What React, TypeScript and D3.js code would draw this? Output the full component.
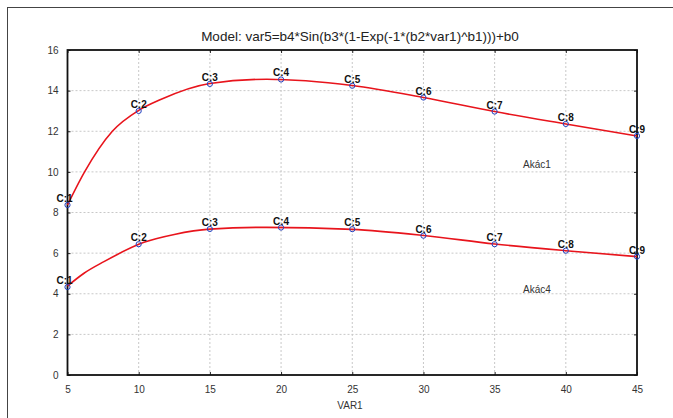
import { useRef, useEffect } from "react";
import * as d3 from "d3";

const xVals = [5, 10, 15, 20, 25, 30, 35, 40, 45];
const akac1 = [8.37, 13.0, 14.33, 14.55, 14.24, 13.66, 12.97, 12.36, 11.77];
const akac4 = [4.33, 6.44, 7.19, 7.26, 7.18, 6.86, 6.44, 6.12, 5.83];
const pointLabels = ["C:1", "C:2", "C:3", "C:4", "C:5", "C:6", "C:7", "C:8", "C:9"];
const xTicks = [5, 10, 15, 20, 25, 30, 35, 40, 45];
const yTicks = [0, 2, 4, 6, 8, 10, 12, 14, 16];
const seriesNames = ["Akác1", "Akác4"];

// fitted model curves
const fit1X = [5, 6.2, 8.15, 10, 11.5, 15, 19, 25, 30, 35, 40, 45];
const fit1Y = [8.37, 10.0, 12.0, 13.03, 13.55, 14.35, 14.56, 14.25, 13.66, 12.97, 12.36, 11.77];
const fit4X = [5, 6.16, 7.56, 10.37, 12.5, 15, 19, 25, 30, 35, 40, 45];
const fit4Y = [4.38, 5.01, 5.58, 6.53, 6.92, 7.18, 7.27, 7.17, 6.87, 6.45, 6.12, 5.83];

function App() {
  const svgRef = useRef<SVGSVGElement>(null);

  useEffect(() => {
    const w = 673;
    const h = 418;
    const svg = d3.select(svgRef.current);
    svg.selectAll("*").remove();

    const left = 67.5, right = 637, top = 50, bottom = 375;
    const x = d3.scaleLinear().domain([5, 45]).range([left, right]);
    const y = d3.scaleLinear().domain([0, 16]).range([bottom, top]);
    const font = "Liberation Sans, Arial, sans-serif";

    // outer frame
    svg.append("rect")
      .attr("x", 7.5).attr("y", 7.5)
      .attr("width", w + 20).attr("height", h + 20)
      .attr("fill", "none").attr("stroke", "#444").attr("stroke-width", 1);

    // grid
    svg.append("g").selectAll("line").data(xTicks.slice(1, -1)).enter().append("line")
      .attr("x1", (d) => x(d)).attr("x2", (d) => x(d))
      .attr("y1", top).attr("y2", bottom)
      .attr("stroke", "#c8c8c8").attr("stroke-dasharray", "2,2");
    svg.append("g").selectAll("line").data(yTicks.slice(1, -1)).enter().append("line")
      .attr("x1", left).attr("x2", right)
      .attr("y1", (d) => y(d)).attr("y2", (d) => y(d))
      .attr("stroke", "#c8c8c8").attr("stroke-dasharray", "2,2");

    // axes (ticks inward on all sides)
    const axisStyle = (g: any) => {
      g.select(".domain").remove();
      g.selectAll(".tick line").attr("stroke", "#222");
      g.selectAll("text").attr("fill", "#333").style("font-family", font).style("font-size", "10px");
    };
    svg.append("g").attr("transform", `translate(0,${bottom})`)
      .call(d3.axisBottom(x).tickValues(xTicks).tickSizeInner(-3).tickSizeOuter(0).tickPadding(11))
      .call(axisStyle);
    svg.append("g").attr("transform", `translate(${left},0)`)
      .call(d3.axisLeft(y).tickValues(yTicks).tickSizeInner(-3).tickSizeOuter(0).tickPadding(9))
      .call(axisStyle);
    svg.append("g").attr("transform", `translate(0,${top})`)
      .call(d3.axisTop(x).tickValues(xTicks).tickSizeInner(-3).tickSizeOuter(0).tickFormat(() => ""))
      .call(axisStyle);
    svg.append("g").attr("transform", `translate(${right},0)`)
      .call(d3.axisRight(y).tickValues(yTicks).tickSizeInner(-3).tickSizeOuter(0).tickFormat(() => ""))
      .call(axisStyle);

    svg.append("rect")
      .attr("x", left).attr("y", top)
      .attr("width", right - left).attr("height", bottom - top)
      .attr("fill", "none").attr("stroke", "#111").attr("stroke-width", 1.8);

    // fitted curves
    const line = d3.line<[number, number]>()
      .x((d) => x(d[0]))
      .y((d) => y(d[1]))
      .curve(d3.curveMonotoneX);

    [[fit1X, fit1Y], [fit4X, fit4Y]].forEach(([fx, fy]) => {
      svg.append("path").datum(fx.map((v, i) => [v, fy[i]] as [number, number]))
        .attr("d", line)
        .attr("fill", "none").attr("stroke", "#e8141c").attr("stroke-width", 1.6);
    });

    // observed points
    [akac1, akac4].forEach((vals) => {
      svg.append("g").selectAll("circle").data(vals).enter().append("circle")
        .attr("cx", (_, i) => x(xVals[i])).attr("cy", (d) => y(d)).attr("r", 2.6)
        .attr("fill", "none").attr("stroke", "#2040c0").attr("stroke-width", 1);
      svg.append("g").selectAll("text").data(vals).enter().append("text")
        .attr("x", (_, i) => x(xVals[i]) - (i === 0 ? 3 : 0))
        .attr("y", (d) => y(d) - 3)
        .attr("text-anchor", "middle")
        .style("font-family", font).style("font-size", "10px").style("font-weight", "bold")
        .attr("fill", "#111")
        .text((_, i) => pointLabels[i]);
    });

    // series names
    svg.append("text").attr("x", 537).attr("y", 168).attr("text-anchor", "middle")
      .style("font-family", font).style("font-size", "10px").attr("fill", "#333").text(seriesNames[0]);
    svg.append("text").attr("x", 537).attr("y", 293).attr("text-anchor", "middle")
      .style("font-family", font).style("font-size", "10px").attr("fill", "#333").text(seriesNames[1]);

    // title & axis label
    svg.append("text").attr("x", 360).attr("y", 41).attr("text-anchor", "middle")
      .style("font-family", font).style("font-size", "13.5px").attr("fill", "#222")
      .text("Model: var5=b4*Sin(b3*(1-Exp(-1*(b2*var1)^b1)))+b0");
    svg.append("text").attr("x", 350).attr("y", 409).attr("text-anchor", "middle")
      .style("font-family", font).style("font-size", "10px").attr("fill", "#333").text("VAR1");
  }, []);

  return (
    <svg
      ref={svgRef}
      width={673}
      height={418}
      style={{ position: "absolute", left: 0, top: 0, background: "#fff" }}
    ></svg>
  );
}

export default App;
